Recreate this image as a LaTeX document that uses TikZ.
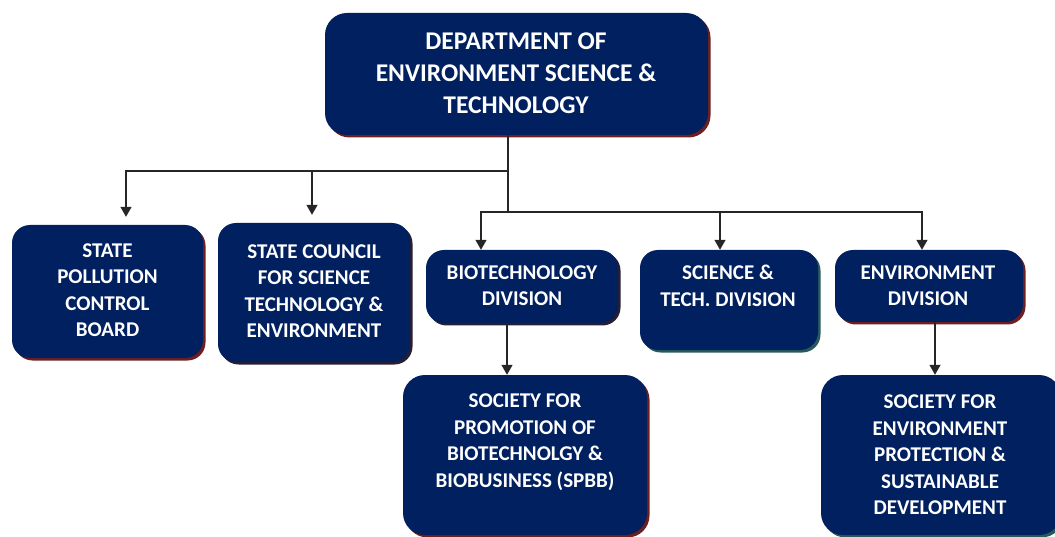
\documentclass[tikz,border=0pt]{standalone}
\usepackage{fontspec}
\setmainfont{Carlito}
\usetikzlibrary{arrows.meta,shadows}
\definecolor{navy}{RGB}{0,32,96}
\definecolor{maroon}{RGB}{110,30,30}
\definecolor{tealsh}{RGB}{40,90,90}
\definecolor{darksh}{RGB}{40,30,50}
\tikzset{
  box/.style={draw=none,fill=navy,rounded corners=18pt,inner sep=0pt},
  bigbox/.style={box,rounded corners=22pt},
  shred/.style={drop shadow={fill=maroon,opacity=1,shadow xshift=2.5pt,shadow yshift=-2.5pt}},
  shteal/.style={drop shadow={fill=tealsh,opacity=1,shadow xshift=2.5pt,shadow yshift=-2.5pt}},
  shdark/.style={drop shadow={fill=darksh,opacity=1,shadow xshift=2.5pt,shadow yshift=-2.5pt}},
  txt/.style={text=white,font=\bfseries\fontsize{21}{26.5}\selectfont,align=center,inner sep=0pt},
  toptxt/.style={text=white,font=\bfseries\fontsize{25.5}{32}\selectfont,align=center,inner sep=0pt},
  line/.style={draw=black!85,line width=1.4pt},
  arr/.style={line,-{Triangle[width=11pt,length=10pt]}},
}
\begin{document}
\begin{tikzpicture}[x=1pt,y=-1pt]
\useasboundingbox (0,0) rectangle (1055,537);
% boxes
\node[bigbox,shred,minimum width=383pt,minimum height=122pt] (top) at (516.5,74) {};
\node[box,shred,minimum width=191pt,minimum height=133pt] (spcb) at (107.5,291.5) {};
\node[box,shdark,minimum width=192pt,minimum height=139pt] (scste) at (314,292.5) {};
\node[box,shdark,minimum width=192pt,minimum height=73pt] (bio) at (522,286.5) {};
\node[box,shteal,minimum width=178pt,minimum height=100pt] (sci) at (729,300) {};
\node[box,shred,minimum width=188pt,minimum height=72pt] (env) at (929,286) {};
\node[bigbox,shred,minimum width=244pt,minimum height=160pt] (spbb) at (525,455) {};
\node[bigbox,shteal,minimum width=240pt,minimum height=160pt] (sepsd) at (941,455) {};
% texts
\node[toptxt] (ttop) at (516,73) {DEPARTMENT OF\\ENVIRONMENT SCIENCE \&\\TECHNOLOGY};
\node[txt] (tspcb) at (107.5,290) {STATE\\POLLUTION\\CONTROL\\BOARD};
\node[txt] (tscste) at (314,291) {STATE COUNCIL\\FOR SCIENCE\\TECHNOLOGY \&\\ENVIRONMENT};
\node[txt] (tbio) at (522,285.5) {BIOTECHNOLOGY\\DIVISION};
\node[txt] (tsci) at (728,286) {SCIENCE \&\\TECH. DIVISION};
\node[txt] (tenv) at (928,285.5) {ENVIRONMENT\\DIVISION};
\node[txt] (tspbb) at (525,442) {SOCIETY FOR\\PROMOTION OF\\BIOTECHNOLGY \&\\BIOBUSINESS (SPBB)};
\node[txt] (tsepsd) at (940,455) {SOCIETY FOR\\ENVIRONMENT\\PROTECTION \&\\SUSTAINABLE\\DEVELOPMENT};
% connectors
\coordinate (jl) at (508,171);
\coordinate (jr) at (508,212);
\draw[line] (top.south -| jl) -- (jr);
\draw[arr,shorten >=8pt] (jl) -| ([xshift=18.5pt]spcb.north);
\draw[arr,shorten >=8pt] (jl -| 312,0) -- (scste.north -| 312,0);
\draw[arr] (jr) -| ([xshift=-41pt]bio.north);
\draw[arr] (jr -| sci.north) ++(-9,0) -- ([xshift=-9pt]sci.north);
\draw[arr] (jr) -| ([xshift=-7pt]env.north);
\draw[arr] ([xshift=-15pt]bio.south) -- ([xshift=-15pt]bio.south |- spbb.north);
\draw[arr] ([xshift=6pt]env.south) -- ([xshift=6pt]env.south |- sepsd.north);
\end{tikzpicture}
\end{document}
